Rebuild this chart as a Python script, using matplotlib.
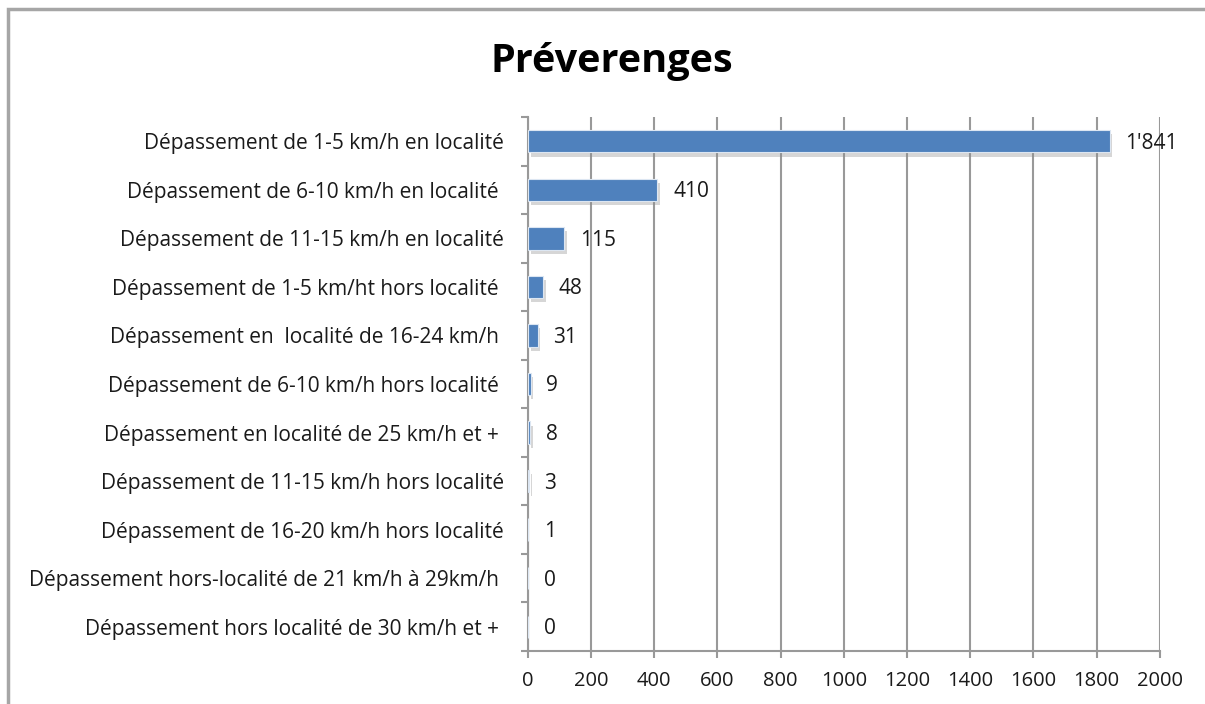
import numpy as np
import matplotlib.pyplot as plt
import matplotlib.patheffects as pe
from matplotlib.patches import Rectangle

plt.rcParams.update({
    "font.family": ["Open Sans", "DejaVu Sans"],
    "font.size": 15,
})

categories = [
    "Dépassement de 1-5 km/h en localité",
    "Dépassement de 6-10 km/h en localité ",
    "Dépassement de 11-15 km/h en localité",
    "Dépassement de 1-5 km/ht hors localité ",
    "Dépassement en  localité de 16-24 km/h ",
    "Dépassement de 6-10 km/h hors localité ",
    "Dépassement en localité de 25 km/h et + ",
    "Dépassement de 11-15 km/h hors localité",
    "Dépassement de 16-20 km/h hors localité",
    "Dépassement hors-localité de 21 km/h à 29km/h ",
    "Dépassement hors localité de 30 km/h et + ",
]
values = [1841, 410, 115, 48, 31, 9, 8, 3, 1, 0, 0]
value_labels = ["1'841", "410", "115", "48", "31", "9", "8", "3", "1", "0", "0"]
xticks = list(range(0, 2001, 200))

fig = plt.figure(figsize=(12.05, 7.04), dpi=100)
ax = fig.add_axes([0.438, 0.0753, 0.5245, 0.7585])

# outer frame (only left/top visible in the reference)
fig.patches.append(Rectangle((8 / 1205, -0.05), 1.2, 1 - 9 / 704 + 0.05,
                             transform=fig.transFigure, fill=False,
                             edgecolor="#a6a6a6", linewidth=2.5))

y = np.arange(len(categories))
bars = ax.barh(y, values, height=0.46, color="#4f81bd", edgecolor="#dce6f2",
               linewidth=0.8, zorder=3)
for b in bars:
    b.set_path_effects([pe.SimplePatchShadow(offset=(2, -3), shadow_rgbFace="#8c8c8c", alpha=0.35),
                        pe.Normal()])

for yi, v, lab in zip(y, values, value_labels):
    ax.text(v + 50, yi + 0.04, lab, va="center", ha="left", fontsize=15, color="#1a1a1a", zorder=4)

ax.set_xlim(0, 2000)
ax.set_ylim(len(categories) - 0.5, -0.5)
ax.set_xticks(xticks)
ax.set_yticks(y)
ax.set_yticklabels(categories)
ax.set_yticks(np.arange(len(categories) + 1) - 0.5, minor=True)

ax.grid(axis="x", color="#999999", linewidth=1.5, zorder=0)
ax.set_axisbelow(True)
for s in ["top", "right"]:
    ax.spines[s].set_visible(False)
for s in ["left", "bottom"]:
    ax.spines[s].set_color("#999999")
    ax.spines[s].set_linewidth(1.5)

ax.tick_params(axis="y", which="major", length=0, pad=17, labelsize=15, labelcolor="#1a1a1a")
ax.tick_params(axis="y", which="minor", length=5, width=1.5, color="#999999")
ax.tick_params(axis="x", length=5, width=1.5, color="#999999", pad=9.5, labelsize=14.5, labelcolor="#1a1a1a")

fig.text(0.508, 0.912, "Préverenges", ha="center", va="center", fontsize=28.5,
         fontweight="bold", color="#000000")

fig.savefig("out.png", dpi=100)
